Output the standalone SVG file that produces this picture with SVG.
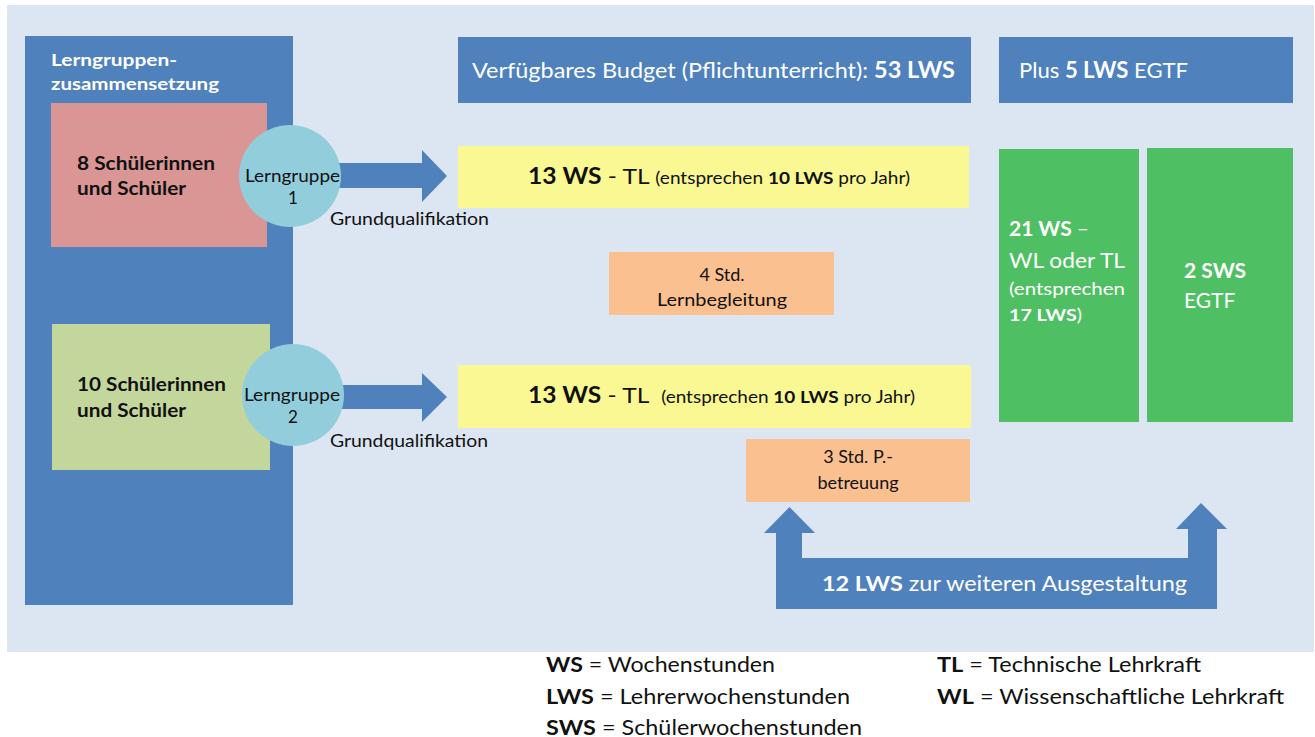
<svg xmlns="http://www.w3.org/2000/svg" width="1315" height="737" viewBox="0 0 1315 737">
<style>
text{font-family:Lato,"Liberation Sans",sans-serif;}
.w{fill:#ffffff;}
.k{fill:#111111;}
.b{font-weight:bold;}
.blue{fill:#4F81BD;}
.arrow{fill:#4F81BD;}
</style>
<rect x="0" y="0" width="1315" height="737" fill="#ffffff"/>
<rect id="panel" x="7" y="5" width="1307" height="647" fill="#DCE6F2"/>

<g id="lerngruppen">
<rect x="25" y="36" width="268" height="569" class="blue"/>
<text class="w b" font-size="17" x="51" y="66" textLength="126" lengthAdjust="spacingAndGlyphs">Lerngruppen-</text>
<text class="w b" font-size="17" x="51" y="90" textLength="168" lengthAdjust="spacingAndGlyphs">zusammensetzung</text>
</g>

<g id="gruppe1">
<rect x="51" y="103" width="216" height="144" fill="#D99694"/>
<text class="k b" font-size="18" x="77" y="170" textLength="138" lengthAdjust="spacingAndGlyphs">8 Schülerinnen</text>
<text class="k b" font-size="18" x="77" y="195" textLength="109" lengthAdjust="spacingAndGlyphs">und Schüler</text>
</g>

<g id="gruppe2">
<rect x="52" y="324" width="218" height="146" fill="#C3D69B"/>
<text class="k b" font-size="18" x="77" y="391" textLength="149" lengthAdjust="spacingAndGlyphs">10 Schülerinnen</text>
<text class="k b" font-size="18" x="77" y="417" textLength="109" lengthAdjust="spacingAndGlyphs">und Schüler</text>
</g>

<g id="connectors">
<polygon class="arrow" points="336,163 422,163 422,150 447,176 422,202 422,188 336,188"/>
<polygon class="arrow" points="338,385 422,385 422,373 447,397 422,422 422,409 338,409"/>
<polygon class="arrow" points="776,609 1217,609 1217,529 1227,529 1201,503 1176,529 1188,529 1188,558 802,558 802,533 815,533 789.5,507 764,533 776,533"/>
<text class="k" font-size="17" x="330" y="225" textLength="159" lengthAdjust="spacingAndGlyphs">Grundqualifikation</text>
<text class="k" font-size="17" x="330" y="447" textLength="158" lengthAdjust="spacingAndGlyphs">Grundqualifikation</text>
<text class="w" font-size="21" x="822" y="591" textLength="365" lengthAdjust="spacingAndGlyphs"><tspan class="b">12 LWS</tspan> zur weiteren Ausgestaltung</text>
</g>

<g id="lerngruppe1">
<circle cx="290" cy="176" r="51" fill="#92CDDC"/>
<text class="k" font-size="17" x="245" y="182" textLength="95" lengthAdjust="spacingAndGlyphs">Lerngruppe</text>
<text class="k" font-size="17" x="293" y="204" text-anchor="middle">1</text>
</g>

<g id="lerngruppe2">
<circle cx="293" cy="395" r="51" fill="#92CDDC"/>
<text class="k" font-size="17" x="244" y="401" textLength="96" lengthAdjust="spacingAndGlyphs">Lerngruppe</text>
<text class="k" font-size="17" x="293" y="423" text-anchor="middle">2</text>
</g>

<g id="budget">
<rect x="458" y="37" width="513" height="66" class="blue"/>
<text class="w" font-size="22" x="472" y="78" textLength="483" lengthAdjust="spacingAndGlyphs">Verfügbares Budget (Pflichtunterricht): <tspan class="b">53 LWS</tspan></text>
</g>

<g id="plus">
<rect x="999" y="37" width="294" height="66" class="blue"/>
<text class="w" font-size="22" x="1019" y="78" textLength="169" lengthAdjust="spacingAndGlyphs">Plus <tspan class="b">5 LWS</tspan> EGTF</text>
</g>

<g id="tl1">
<rect x="458" y="146" width="511" height="62" fill="#FAF892"/>
<text class="k" font-size="22" x="528" y="184" textLength="382" lengthAdjust="spacingAndGlyphs"><tspan class="b">13 WS</tspan> - TL <tspan font-size="17">(entsprechen </tspan><tspan font-size="17" class="b">10 LWS</tspan><tspan font-size="17"> pro Jahr)</tspan></text>
</g>

<g id="lernbegleitung">
<rect x="609" y="252" width="225" height="63" fill="#FAC090"/>
<text class="k" font-size="18" x="722" y="281" text-anchor="middle">4 Std.</text>
<text class="k" font-size="18" x="722" y="306" text-anchor="middle" textLength="130" lengthAdjust="spacingAndGlyphs">Lernbegleitung</text>
</g>

<g id="tl2">
<rect x="458" y="365" width="513" height="63" fill="#FAF892"/>
<text class="k" font-size="22" x="528" y="403" textLength="387" lengthAdjust="spacingAndGlyphs" xml:space="preserve"><tspan class="b">13 WS</tspan> - TL  <tspan font-size="17">(entsprechen </tspan><tspan font-size="17" class="b">10 LWS</tspan><tspan font-size="17"> pro Jahr)</tspan></text>
</g>

<g id="betreuung">
<rect x="746" y="439" width="224" height="63" fill="#FAC090"/>
<text class="k" font-size="18" x="858" y="463" text-anchor="middle">3 Std. P.-</text>
<text class="k" font-size="18" x="858" y="489" text-anchor="middle">betreuung</text>
</g>

<g id="ws21">
<rect x="999" y="149" width="140" height="273" fill="#4FBF63"/>
<text class="w b" font-size="21" x="1009" y="236">21 WS <tspan font-weight="normal">–</tspan></text>
<text class="w" font-size="21" x="1009" y="268" textLength="116" lengthAdjust="spacingAndGlyphs">WL oder TL</text>
<text class="w" font-size="17" x="1009" y="295" textLength="116" lengthAdjust="spacingAndGlyphs">(entsprechen</text>
<text class="w" font-size="17" x="1009" y="321" textLength="73" lengthAdjust="spacingAndGlyphs"><tspan class="b">17 LWS</tspan>)</text>
</g>

<g id="sws2">
<rect x="1147" y="148" width="146" height="274" fill="#4FBF63"/>
<text class="w b" font-size="21" x="1184" y="278">2 SWS</text>
<text class="w" font-size="21" x="1184" y="308">EGTF</text>
</g>

<g id="legende">
<text class="k" font-size="21" x="546" y="672" textLength="229" lengthAdjust="spacingAndGlyphs"><tspan class="b">WS</tspan> = Wochenstunden</text>
<text class="k" font-size="21" x="546" y="704" textLength="304" lengthAdjust="spacingAndGlyphs"><tspan class="b">LWS</tspan> = Lehrerwochenstunden</text>
<text class="k" font-size="21" x="546" y="735" textLength="316" lengthAdjust="spacingAndGlyphs"><tspan class="b">SWS</tspan> = Schülerwochenstunden</text>
<text class="k" font-size="21" x="937" y="672" textLength="264" lengthAdjust="spacingAndGlyphs"><tspan class="b">TL</tspan> = Technische Lehrkraft</text>
<text class="k" font-size="21" x="937" y="704" textLength="347" lengthAdjust="spacingAndGlyphs"><tspan class="b">WL</tspan> = Wissenschaftliche Lehrkraft</text>
</g>
</svg>
